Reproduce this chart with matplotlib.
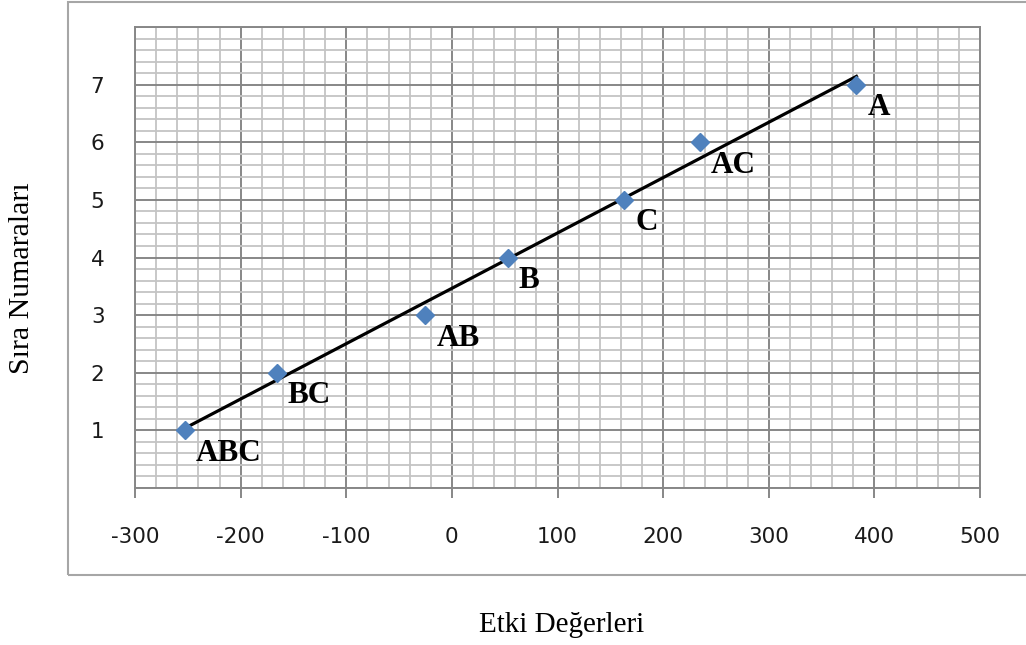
import numpy as np
import matplotlib
matplotlib.use("Agg")
import matplotlib.pyplot as plt
from matplotlib.ticker import MultipleLocator, FixedLocator
from matplotlib.patches import Rectangle

# Data
labels = ["ABC", "BC", "AB", "B", "C", "AC", "A"]
effects = [-253, -166, -25, 53, 163, 235, 383]
ranks = [1, 2, 3, 4, 5, 6, 7]
x_ticks = [-300, -200, -100, 0, 100, 200, 300, 400, 500]
y_ticks = [1, 2, 3, 4, 5, 6, 7]
x_label = "Etki Değerleri"
y_label = "Sıra Numaraları"

fig = plt.figure(figsize=(10.26, 6.45), dpi=100)
ax = fig.add_axes([135/1026, 1-488/645, (980-135)/1026, (488-27)/645])

# outer chart frame
fig.patches.append(Rectangle((68/1026, 1-575/645), 1.0, (575-1.5)/645,
                             transform=fig.transFigure, fill=False,
                             edgecolor="#a6a6a6", linewidth=1.5, zorder=0))

ax.set_xlim(-300, 500)
ax.set_ylim(0, 8)
ax.xaxis.set_major_locator(FixedLocator(x_ticks))
ax.xaxis.set_minor_locator(MultipleLocator(20))
ax.yaxis.set_minor_locator(MultipleLocator(0.2))
ax.set_yticks(list(range(0, 9)))
ax.set_yticklabels([str(v) if v in y_ticks else "" for v in range(0, 9)])
ax.set_xticklabels([str(v) for v in x_ticks])

ax.grid(which="minor", color="#c4c4c4", linewidth=1.3, zorder=0)
ax.grid(which="major", color="#878787", linewidth=1.4, zorder=0)
ax.set_axisbelow(True)
for s in ax.spines.values():
    s.set_color("#878787")
    s.set_linewidth(1.4)

ax.tick_params(axis="x", which="major", length=7, width=1.4, color="#878787",
               pad=21, labelsize=15.5, labelcolor="#1a1a1a")
ax.tick_params(axis="y", which="major", length=0, pad=22, labelsize=15.5,
               labelcolor="#1a1a1a")
ax.tick_params(which="minor", length=0)

# trendline
coef = np.polyfit(effects, ranks, 1)
xl = np.array([min(effects), max(effects)])
ax.plot(xl, np.polyval(coef, xl), color="black", linewidth=2.3, zorder=3)

ax.plot(effects, ranks, linestyle="none", marker="D", markersize=9,
        color="#4f81bd", zorder=4)

for lab, xv, yv in zip(labels, effects, ranks):
    ax.annotate(lab, (xv, yv), xytext=(8, -16.5), textcoords="offset points",
                ha="left", va="center", fontsize=22.5, fontweight="bold",
                family="Liberation Serif", color="black", zorder=5)

fig.text(562/1026, 1-625/645, x_label, ha="center", va="center",
         fontsize=21, family="Liberation Serif")
fig.text(22/1026, 1-278/645, y_label, ha="center", va="center",
         rotation=90, fontsize=21.5, family="Liberation Serif")

fig.savefig("out.png", dpi=100)
